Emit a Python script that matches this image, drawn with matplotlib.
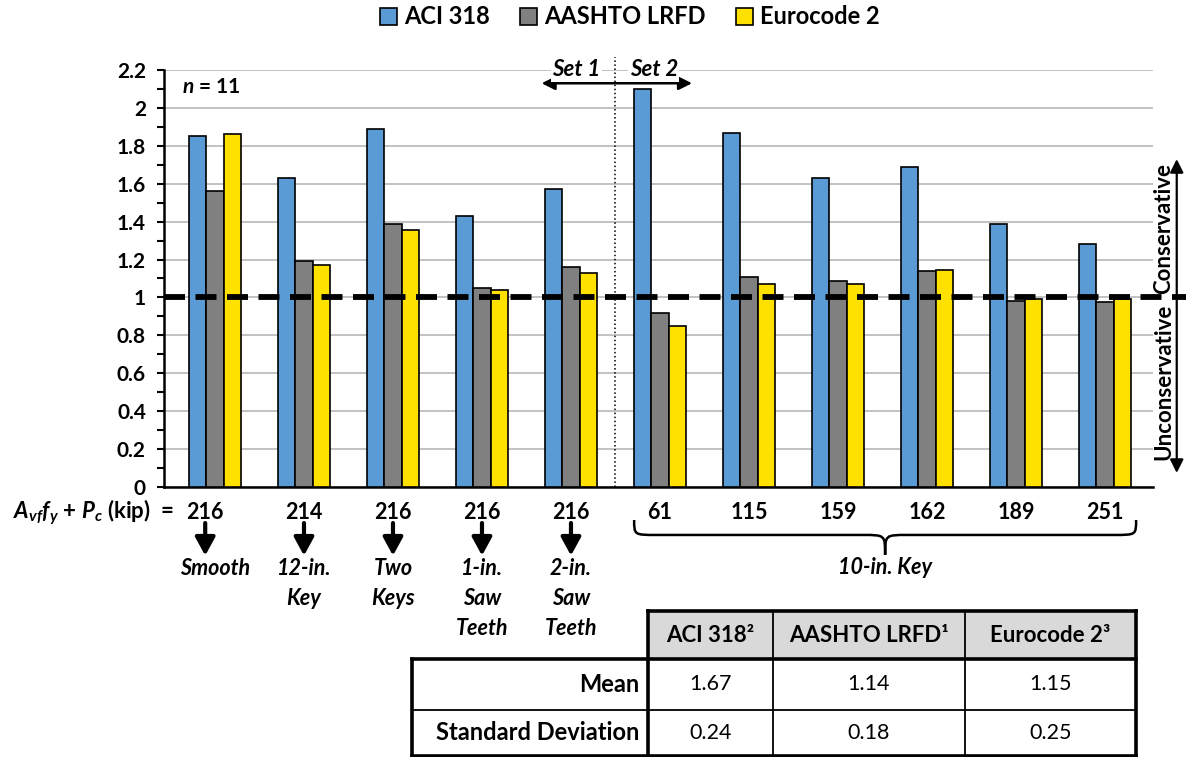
import matplotlib
matplotlib.use('Agg')
import matplotlib.pyplot as plt
import numpy as np
import matplotlib.transforms as mtransforms
from matplotlib.patches import Patch, Rectangle, PathPatch
from matplotlib.path import Path

FONT = 'Lato'
plt.rcParams['font.family'] = [FONT, 'DejaVu Sans']
plt.rcParams['mathtext.fontset'] = 'custom'
plt.rcParams['mathtext.it'] = FONT + ':italic:bold'
plt.rcParams['mathtext.rm'] = FONT + ':bold'
plt.rcParams['mathtext.bf'] = FONT + ':bold'

# ---------------- data ----------------
series_names = ['ACI 318', 'AASHTO LRFD', 'Eurocode 2']
kip_labels = ['216', '214', '216', '216', '216', '61', '115', '159', '162', '189', '251']
aci = [1.85, 1.63, 1.89, 1.43, 1.57, 2.10, 1.87, 1.63, 1.69, 1.39, 1.28]
aashto = [1.56, 1.19, 1.39, 1.05, 1.16, 0.92, 1.11, 1.085, 1.14, 0.98, 0.975]
eurocode = [1.86, 1.17, 1.355, 1.04, 1.13, 0.85, 1.07, 1.07, 1.145, 0.99, 0.99]
surface_labels = ['Smooth', '12-in.\nKey', 'Two\nKeys', '1-in.\nSaw\nTeeth', '2-in.\nSaw\nTeeth']
key_label = '10-in. Key'
yticks = [0, 0.2, 0.4, 0.6, 0.8, 1.0, 1.2, 1.4, 1.6, 1.8, 2.0, 2.2]
table_cols = ['ACI 318\u00b2', 'AASHTO LRFD\u00b9', 'Eurocode 2\u00b3']
table_rows = ['Mean', 'Standard Deviation']
table_vals = [['1.67', '1.14', '1.15'], ['0.24', '0.18', '0.25']]

colors = ['#5B9BD5', '#808080', '#FFE100']

W, H = 1186, 757
fig = plt.figure(figsize=(W / 100, H / 100), dpi=100)
ax = fig.add_axes([164 / W, 1 - 487 / H, (1153 - 164) / W, (487 - 70) / H])

x = np.arange(len(kip_labels))
bw = 0.193
for i, (vals, c) in enumerate(zip([aci, aashto, eurocode], colors)):
    ax.bar(x + (i - 1) * bw, vals, bw, color=c, edgecolor='black', linewidth=1.2, zorder=3)

ax.set_yticks(yticks, labels=[f'{v:g}' for v in yticks], fontweight='bold', fontsize=15)
ax.set_yticks(np.arange(0.1, 2.2, 0.2), minor=True)
ax.set_xticks([])
ax.tick_params(axis='y', which='both', direction='out', length=5, width=1.5, pad=8)
ax.grid(axis='y', which='major', color='#B8B8B8', lw=1.2, zorder=0)
for s in ['top', 'right']:
    ax.spines[s].set_visible(False)
for s in ['left', 'bottom']:
    ax.spines[s].set_linewidth(1.8)

# reference line at 1.0
ax.axhline(1.0, xmin=0, xmax=(W - 164) / (1153 - 164), color='black', lw=4.2,
           dashes=(3.6, 1.8), clip_on=False, zorder=6)

# Set 1 / Set 2 divider
div = 4.5
ax.plot([div, div], [0, 2.27], ls=':', color='black', lw=1.1, clip_on=False, zorder=4)
ax.annotate('', xy=(div - 0.83, 2.13), xytext=(div + 0.86, 2.13),
            arrowprops=dict(arrowstyle='<|-|>,head_length=0.4,head_width=0.2', lw=1.8,
                            color='black', shrinkA=0, shrinkB=0, mutation_scale=20),
            annotation_clip=False)
bb = dict(facecolor='white', edgecolor='none', pad=1)
ax.text(div - 0.44, 2.2, 'Set 1', ha='center', va='center', fontsize=16,
        fontweight='bold', fontstyle='italic', bbox=bb, zorder=7)
ax.text(div + 0.43, 2.2, 'Set 2', ha='center', va='center', fontsize=16,
        fontweight='bold', fontstyle='italic', bbox=bb, zorder=7)

ax.text(-0.37, 2.11, r'$n$ = 11', ha='left', va='center', fontsize=15, fontweight='bold')

# Conservative / Unconservative
trans = mtransforms.blended_transform_factory(ax.transAxes, ax.transData)
ax.annotate('', xy=(1.024, 1.73), xytext=(1.024, 0.074), xycoords=trans, textcoords=trans,
            arrowprops=dict(arrowstyle='<|-|>,head_length=0.4,head_width=0.2', lw=1.6,
                            color='black', shrinkA=0, shrinkB=0, mutation_scale=20),
            annotation_clip=False)
ax.text(1.011, 1.366, 'Conservative', transform=trans, rotation=90, ha='center',
        va='center', fontsize=16, fontweight='bold')
ax.text(1.011, 0.555, 'Unconservative', transform=trans, rotation=90, ha='center',
        va='center', fontsize=16, fontweight='bold')

# bottom labels
ax.text(-0.46, -0.132, r'$A_{vf}f_y$ + $P_c$ (kip)  =', ha='right', va='center',
        fontsize=16, fontweight='bold')
for i, lab in enumerate(kip_labels):
    xi = i - 0.11 if i == 0 else i
    ax.text(xi, -0.132, lab, ha='center', va='center', fontsize=15.5, fontweight='bold')
for i, lab in enumerate(surface_labels):
    xi = i - 0.11 if i == 0 else i
    ax.annotate('', xy=(xi, -0.362), xytext=(xi, -0.19),
                arrowprops=dict(arrowstyle='-|>,head_length=0.55,head_width=0.3', lw=3.0,
                                color='black', mutation_scale=20, shrinkA=0, shrinkB=0),
                annotation_clip=False)
    ax.text(i, -0.372, lab, ha='center', va='top', fontsize=15.5, fontweight='bold',
            fontstyle='italic', linespacing=1.55)

# brace under 10-in. key specimens
x0, x1 = 5 - 0.29, len(kip_labels) - 1 + 0.35
xc = (x0 + x1) / 2
yt, ym, ytip = -0.174, -0.253, -0.358
rx = 0.25
verts = [(x0, yt), (x0, ym), (x0, ym), (x0 + rx, ym), (xc - rx, ym),
         (xc, ym), (xc, ym), (xc, ytip),
         (xc, ym), (xc, ym), (xc + rx, ym), (x1 - rx, ym),
         (x1, ym), (x1, ym), (x1, yt)]
codes = [Path.MOVETO, Path.CURVE4, Path.CURVE4, Path.CURVE4, Path.LINETO,
         Path.CURVE4, Path.CURVE4, Path.CURVE4,
         Path.CURVE4, Path.CURVE4, Path.CURVE4, Path.LINETO,
         Path.CURVE4, Path.CURVE4, Path.CURVE4]
brace = PathPatch(Path(verts, codes), fill=False, lw=1.8, edgecolor='black')
ax.add_patch(brace)
brace.set_clip_on(False)
ax.text(xc, -0.426, key_label, ha='center', va='center', fontsize=15.5, fontweight='bold',
        fontstyle='italic')

ax.set_xlim(-0.573, 10.54)
ax.set_ylim(0, 2.2)

# legend
handles = [Patch(facecolor=c, edgecolor='black', lw=1.2) for c in colors]
fig.legend(handles, series_names, loc='center', bbox_to_anchor=(630 / W, 1 - 17 / H), ncol=3,
           frameon=False, prop=dict(weight='bold', size=17), handlelength=0.7,
           handleheight=0.7, handletextpad=0.3, columnspacing=1.3)

# summary table
tax = fig.add_axes([412 / W, 0, 724 / W, 146 / H])
tax.set_xlim(0, 724)
tax.set_ylim(0, 146)
tax.axis('off')
col_edges = [0, 236, 361, 553, 724]
row_edges = [146, 98, 47, 1]
tax.add_patch(Rectangle((col_edges[1], row_edges[1]), col_edges[-1] - col_edges[1],
                        row_edges[0] - row_edges[1], facecolor='#D9D9D9', edgecolor='none'))
thick, thin = 2.6, 1.3
kw = dict(color='black', clip_on=False, solid_capstyle='projecting')
tax.plot([col_edges[1], col_edges[-1]], [row_edges[0]] * 2, lw=thick, **kw)
tax.plot([col_edges[0], col_edges[-1]], [row_edges[1]] * 2, lw=thick, **kw)
tax.plot([col_edges[0], col_edges[-1]], [row_edges[2]] * 2, lw=thin, **kw)
tax.plot([col_edges[0], col_edges[-1]], [row_edges[3]] * 2, lw=thick, **kw)
tax.plot([col_edges[0]] * 2, [row_edges[3], row_edges[1]], lw=thick, **kw)
tax.plot([col_edges[1]] * 2, [row_edges[3], row_edges[0]], lw=thick, **kw)
tax.plot([col_edges[-1]] * 2, [row_edges[3], row_edges[0]], lw=thick, **kw)
for xe in col_edges[2:-1]:
    tax.plot([xe] * 2, [row_edges[3], row_edges[0]], lw=thin, **kw)
for j, name in enumerate(table_cols):
    tax.text((col_edges[j + 1] + col_edges[j + 2]) / 2, (row_edges[0] + row_edges[1]) / 2,
             name, ha='center', va='center', fontsize=16, fontweight='bold')
for r, (rname, vals) in enumerate(zip(table_rows, table_vals)):
    yc = (row_edges[r + 1] + row_edges[r + 2]) / 2
    tax.text(col_edges[1] - 9, yc, rname, ha='right', va='center', fontsize=17,
             fontweight='bold')
    for j, v in enumerate(vals):
        tax.text((col_edges[j + 1] + col_edges[j + 2]) / 2, yc, v, ha='center',
                 va='center', fontsize=15.5)

fig.savefig('out.png', dpi=100)
